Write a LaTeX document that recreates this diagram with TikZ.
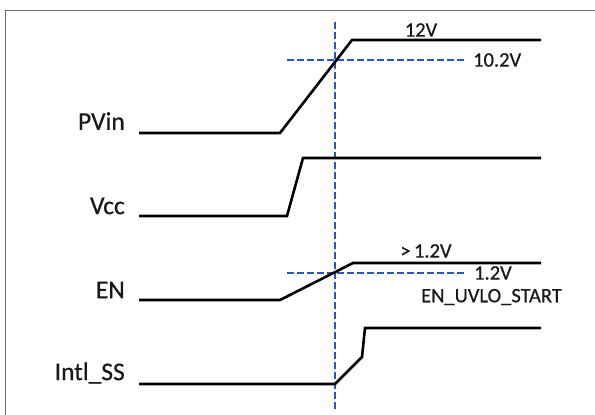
\documentclass[tikz,border=0pt]{standalone}
\usepackage{fontspec}
\setmainfont{Carlito}
\newfontfamily\heavyfont[FakeBold=0.6]{Carlito}
\definecolor{dashblue}{RGB}{35,85,205}
\definecolor{framegray}{RGB}{110,110,110}
\definecolor{txtgray}{RGB}{25,25,25}
\begin{document}
\begin{tikzpicture}[x=1pt,y=-1pt,
  sig/.style={line width=2.6pt,black,line join=miter},
  thr/.style={line width=2.8pt,dashblue,dash pattern=on 6.5pt off 3.5pt},
  biglbl/.style={font=\heavyfont\fontsize{25.5}{28}\selectfont,text=txtgray,anchor=east,inner sep=0pt},
  smalllbl/.style={font=\heavyfont\fontsize{20.5}{23}\selectfont,text=txtgray,inner sep=0pt}]
\useasboundingbox (0,0) rectangle (595,415);
\fill[white] (0,0) rectangle (595,415);
% frame
\draw[framegray,line width=1.6pt] (5.5,415) -- (5.5,10.5) -- (595,10.5);
% labels
\node[biglbl] (lpvin) at (125,121) {PVin};
\node[biglbl] (lvcc) at (125,206) {Vcc};
\node[biglbl] (len) at (125,290) {EN};
\node[biglbl] (lss) at (125,373) {Intl\_SS};
% thresholds
\draw[thr] (287,60) -- (465,60);
\draw[thr] (287,273) -- (465,273);
\draw[thr] (335,22) -- (335,410);
% waveforms
\draw[sig] (139,133) -- (280,133) -- (352,40) -- (541,40);
\draw[sig] (139,216) -- (287,216) -- (303,158) -- (541,158);
\draw[sig] (139,300) -- (280,300) -- (353,263) -- (541,263);
\draw[sig] (139,384) -- (335,384) -- (362,357) -- (365,328) -- (541,328);
% value labels
\node[smalllbl] (v12) at (421,30) {12V};
\node[smalllbl,anchor=west] (v102) at (473,60) {10.2V};
\node[smalllbl] (vgt) at (426,251) {>\,1.2V};
\node[smalllbl,anchor=west] (v12b) at (474,273) {1.2V};
\node[smalllbl,anchor=west] (vuvlo) at (421,297) {EN\_UVLO\_START};
\end{tikzpicture}
\end{document}
